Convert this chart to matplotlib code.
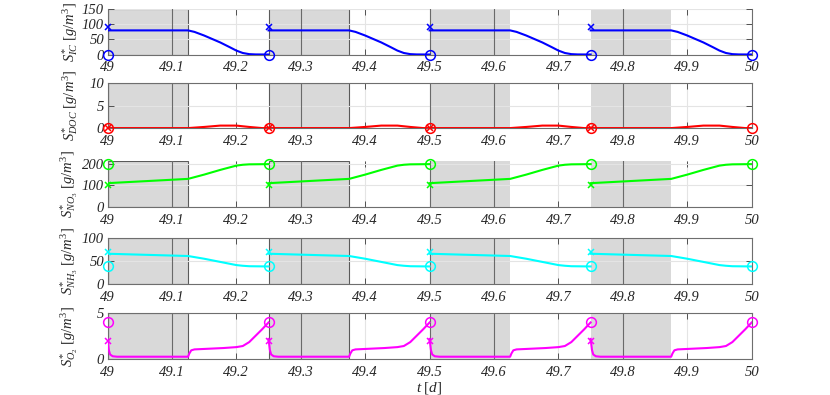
import numpy as np
import matplotlib
matplotlib.use('Agg')
from matplotlib import pyplot as plt

plt.rcParams['mathtext.fontset'] = 'custom'
plt.rcParams['mathtext.rm'] = 'Liberation Serif'
plt.rcParams['mathtext.it'] = 'Liberation Serif:italic'
plt.rcParams['mathtext.default'] = 'it'

# ciclos SBR: llenado (sombreado) + reaccion
cycle_starts = [49.0, 49.25, 49.5, 49.75]
cycle_len = 0.25
fill_len = 0.125
x_ticks = [49.0, 49.1, 49.2, 49.3, 49.4, 49.5, 49.6, 49.7, 49.8, 49.9, 50.0]
x_tick_labels = ['49', '49.1', '49.2', '49.3', '49.4', '49.5', '49.6', '49.7', '49.8', '49.9', '50']

# perfil de un ciclo (t relativo al inicio del ciclo, en d)
ic_t = [0.0, 0.125, 0.135, 0.15, 0.175, 0.19, 0.2, 0.21, 0.22, 0.23, 0.25]
ic_v = [80, 80, 75, 63, 40, 24, 13, 5, 1.2, 0.2, 0.0]
ic_in, ic_out = 90, 0

doc_t = [0.0, 0.125, 0.15, 0.175, 0.2, 0.22, 0.24, 0.25]
doc_v = [0.05, 0.05, 0.3, 0.6, 0.6, 0.3, 0.05, 0.05]
doc_in, doc_out = 0.1, 0.1

no3_t = [0.0, 0.125, 0.15, 0.175, 0.2, 0.21, 0.22, 0.25]
no3_v = [110, 130, 150, 172, 192, 196, 198, 199]
no3_in, no3_out = 100, 200

nh3_t = [0.0, 0.125, 0.15, 0.175, 0.2, 0.21, 0.22, 0.25]
nh3_v = [66, 61, 55, 48, 41, 39.5, 38.5, 38]
nh3_in, nh3_out = 70, 38

o2_t = [0.0, 0.002, 0.004, 0.008, 0.015, 0.125, 0.127, 0.13, 0.135, 0.15, 0.18,
        0.2, 0.21, 0.22, 0.23, 0.24, 0.25]
o2_v = [2.2, 1.0, 0.5, 0.3, 0.25, 0.25, 0.6, 0.95, 1.05, 1.1, 1.2,
        1.3, 1.42, 1.85, 2.55, 3.25, 4.0]
o2_in, o2_out = 2.0, 4.0

panels = [
    (r'$S^{*}_{IC}\ [g/m^{3}]$', ic_t, ic_v, ic_in, ic_out, '#0000ff', (0, 150), [0, 50, 100, 150]),
    (r'$S^{*}_{DOC}\ [g/m^{3}]$', doc_t, doc_v, doc_in, doc_out, '#ff0000', (0, 10), [0, 5, 10]),
    (r'$S^{*}_{NO_{3}}\ [g/m^{3}]$', no3_t, no3_v, no3_in, no3_out, '#00ff00', (0, 215), [0, 100, 200]),
    (r'$S^{*}_{NH_{3}}\ [g/m^{3}]$', nh3_t, nh3_v, nh3_in, nh3_out, '#00ffff', (0, 100), [0, 50, 100]),
    (r'$S^{*}_{O_{2}}\ [g/m^{3}]$', o2_t, o2_v, o2_in, o2_out, '#ff00ff', (0, 5), [0, 5]),
]

# posicion de cada panel en pixeles (arriba, abajo)
W, H = 830, 395
left_px, right_px = 107.5, 751.7
rows_px = [(9.3, 54.5), (83.3, 128.3), (160.7, 206.7), (238.3, 283.7), (313.3, 359.0)]

fig = plt.figure(figsize=(W / 100, H / 100), dpi=100)
tick_font = dict(family='Liberation Serif', style='italic', size=10.5)
spine_c = '#6e6e6e'

for i, (label, ct, cv, v_in, v_out, color, ylim, yticks) in enumerate(panels):
    top, bot = rows_px[i]
    ax = fig.add_axes([left_px / W, 1 - bot / H, (right_px - left_px) / W, (bot - top) / H])

    for k, c in enumerate(cycle_starts):
        ax.axvspan(c, c + fill_len, facecolor='#d9d9d9',
                   edgecolor='#5a5a5a' if k < 2 else 'none', lw=0.8, zorder=0)
    ax.grid(True, color='#e4e4e4', lw=0.8)
    for xt in x_ticks:
        if any(c <= xt < c + fill_len for c in cycle_starts):
            ax.axvline(xt, color='#6a6a6a', lw=0.8, zorder=1.6)

    # cada ciclo por separado (sin conectar los saltos)
    for c in cycle_starts:
        ax.plot(c + np.array(ct), cv, color=color, lw=1.5, zorder=3)
    ax.plot(cycle_starts, [v_in] * len(cycle_starts), 'x', color=color, ms=5, mew=1.1,
            zorder=4, clip_on=False)
    t_out = cycle_starts + [cycle_starts[-1] + cycle_len]
    ax.plot(t_out, [v_out] * len(t_out), 'o', mfc='none', mec=color, ms=7, mew=1.1,
            zorder=4, clip_on=False)

    ax.set_xlim(49, 50)
    ax.set_ylim(*ylim)
    ax.set_xticks(x_ticks)
    ax.set_xticklabels(x_tick_labels, fontdict=tick_font)
    ax.set_yticks(yticks)
    ax.set_yticklabels([str(y) for y in yticks], fontdict=tick_font)
    ax.tick_params(axis='both', direction='in', top=True, right=True, length=4,
                   width=0.7, color='#505050', labelcolor='#262626')
    ax.tick_params(axis='x', pad=5)
    ax.tick_params(axis='y', pad=2.5)
    for s in ax.spines.values():
        s.set_color(spine_c)
        s.set_linewidth(0.8)
    if i in (0, 2):
        ax.spines['top'].set_visible(False)

    ax.set_ylabel(label, fontsize=10.5, color='#262626')
    ax.yaxis.set_label_coords(-0.043, 0.5)

    if i == len(panels) - 1:
        ax.set_xlabel(r'$t\ [d]$', fontsize=11, color='#262626', labelpad=1)

fig.savefig('out.png', dpi=100)
